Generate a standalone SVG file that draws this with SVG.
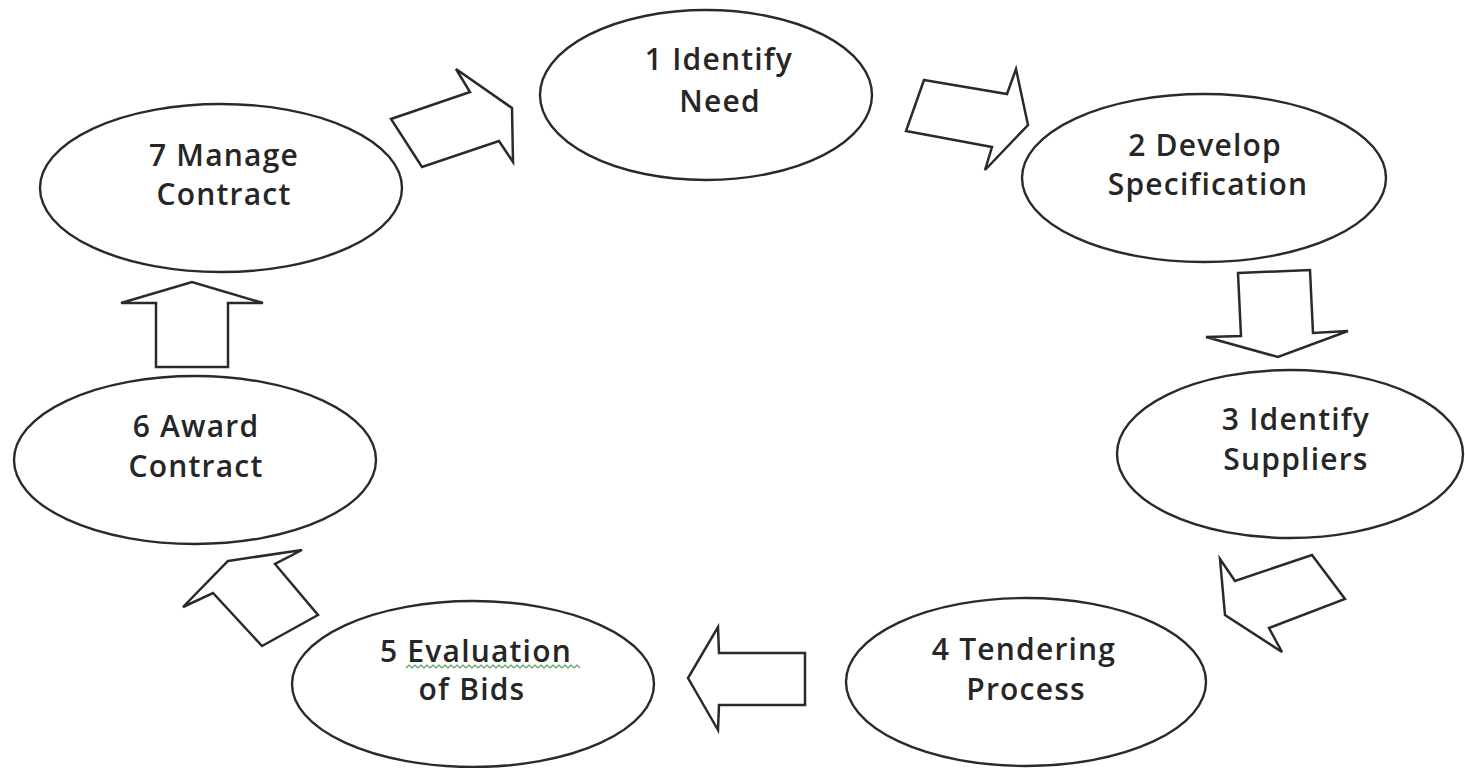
<svg xmlns="http://www.w3.org/2000/svg" width="1465" height="768" viewBox="0 0 1465 768">
<style>
.node ellipse{fill:#fff;stroke:#2a2a2a;stroke-width:2.4}
.node text{font-family:"Open Sans","Noto Sans",sans-serif;font-size:30px;font-weight:600;letter-spacing:1.2px;fill:#262626;text-anchor:middle}
.arrow{fill:#fff;stroke:#2a2a2a;stroke-width:2.5;stroke-linejoin:miter}
</style>
<rect width="1465" height="768" fill="#fff"/>
<g id="connectors">
<polygon class="arrow" points="391,119 470,92 456,69 512,108 513,162 499,141 422,167"/>
<polygon class="arrow" points="924,80 1007,94 1016,69 1028,125 985,170 992,147 906,131"/>
<polygon class="arrow" points="1238,273 1310,270 1313,333 1348,331 1278,357 1206,337 1241,336"/>
<polygon class="arrow" points="1312,555 1345,599 1269,628 1282,652 1225,615 1220,559 1235,581"/>
<polygon class="arrow" points="805,653 805,705 719,705 718,730 688,678 718,627 719,653"/>
<polygon class="arrow" points="228,561 302,550 275,564 318,615 262,646 213,593 183,607"/>
<polygon class="arrow" points="156,367 228,367 228,303 263,303 192,282 121,303 156,303"/>
</g>
<g id="n1" class="node"><ellipse cx="706" cy="95" rx="166" ry="85"/><text x="719" y="70">1 Identify</text><text x="720" y="112">Need</text></g>
<g id="n2" class="node"><ellipse cx="1204" cy="178" rx="182" ry="84"/><text x="1205" y="156">2 Develop</text><text x="1208" y="195">Specification</text></g>
<g id="n3" class="node"><ellipse cx="1290" cy="454" rx="173" ry="84"/><text x="1296" y="430">3 Identify</text><text x="1296" y="470">Suppliers</text></g>
<g id="n4" class="node"><ellipse cx="1026" cy="682" rx="180" ry="84"/><text x="1024" y="660">4 Tendering</text><text x="1026" y="700">Process</text></g>
<g id="n5" class="node"><ellipse cx="473" cy="684" rx="181" ry="83"/><text x="476" y="662">5 Evaluation</text><text x="472" y="700">of Bids</text>
<path d="M406,668 l3,-3 l3,3 l3,-3 l3,3 l3,-3 l3,3 l3,-3 l3,3 l3,-3 l3,3 l3,-3 l3,3 l3,-3 l3,3 l3,-3 l3,3 l3,-3 l3,3 l3,-3 l3,3 l3,-3 l3,3 l3,-3 l3,3 l3,-3 l3,3 l3,-3 l3,3 l3,-3 l3,3 l3,-3 l3,3 l3,-3 l3,3 l3,-3 l3,3 l3,-3 l3,3 l3,-3 l3,3 l3,-3 l3,3 l3,-3 l3,3 l3,-3 l3,3 l3,-3 l3,3 l3,-3 l3,3 l3,-3 l3,3 l3,-3 l3,3 l3,-3 l3,3 l3,-3 l3,3" fill="none" stroke="#5aa05a" stroke-width="1.2"/></g>
<g id="n6" class="node"><ellipse cx="195" cy="460" rx="181" ry="84"/><text x="196" y="437">6 Award</text><text x="196" y="477">Contract</text></g>
<g id="n7" class="node"><ellipse cx="221" cy="188" rx="181" ry="84"/><text x="224" y="166">7 Manage</text><text x="224" y="205">Contract</text></g>
</svg>
